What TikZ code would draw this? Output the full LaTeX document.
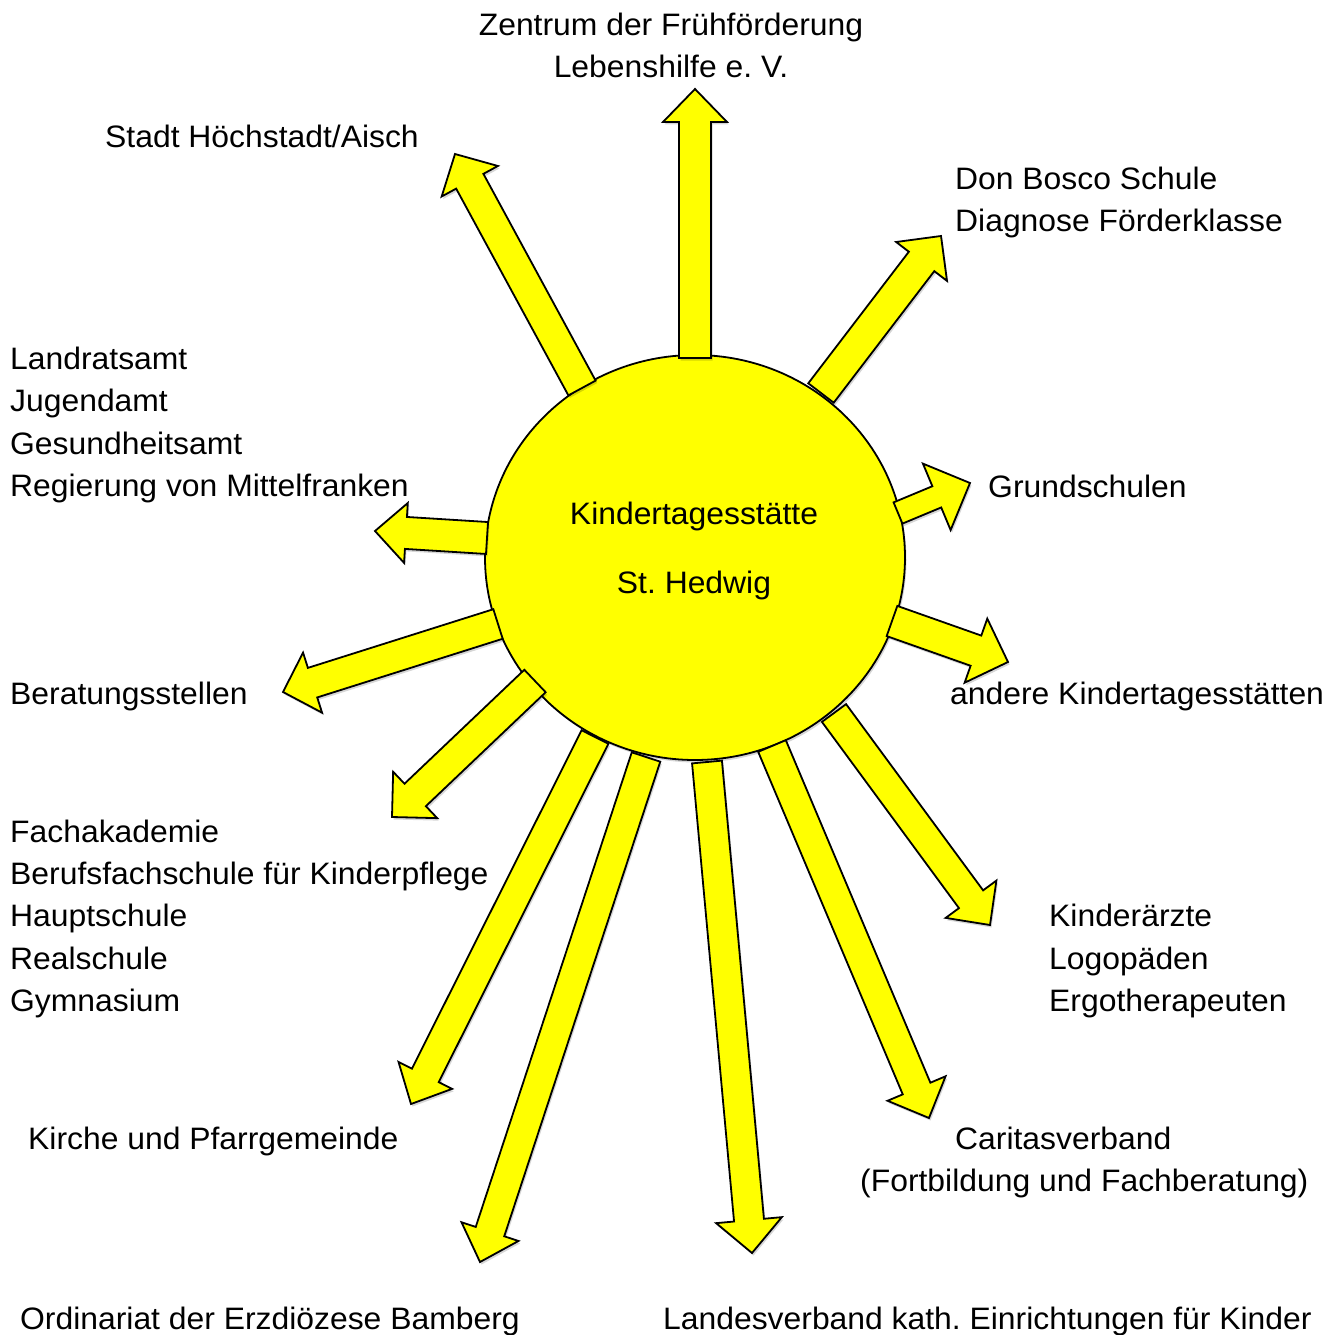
\documentclass[tikz,border=0pt]{standalone}
\usepackage{fontspec}
\setmainfont{Liberation Sans}[FakeStretch=1.028]
\usetikzlibrary{calc,shapes.geometric}
\frenchspacing
\tikzset{
  ray/.style={fill={rgb,255:red,255;green,255;blue,0}, draw=black, line width=1.8pt, line join=miter},
  rayshadow/.style={fill=black, opacity=0.16, transform canvas={shift={(1.5pt,-2.5pt)}}},
  sun/.style={ellipse, draw=black, line width=1.8pt, fill={rgb,255:red,255;green,255;blue,0}, minimum width=420pt, minimum height=405pt, inner sep=0pt},
  lbl/.style={font=\fontsize{31}{42}\selectfont\frenchspacing, inner sep=0pt, anchor=base west},
  clbl/.style={font=\fontsize{31}{42}\selectfont\frenchspacing, inner sep=0pt, anchor=base}
}
% #1 style, #2 base, #3 tip, #4 shaft half width, #5 head half width
\newcommand\rayshape[5]{%
  \path[#1] ($(#2)!#4!90:(#3)$) -- ($(hb)!#4!90:(#3)$) -- ($(hb)!#5!90:(#3)$) -- (#3)
    -- ($(hb)!#5!-90:(#3)$) -- ($(hb)!#4!-90:(#3)$) -- ($(#2)!#4!-90:(#3)$) -- cycle;}
% #1 base, #2 tip, #3 shaft half width, #4 head half width, #5 head length
\newcommand\sunray[5]{%
  \path coordinate (hb) at ($(#2)!#5!(#1)$);
  \rayshape{rayshadow}{#1}{#2}{#3}{#4}
  \rayshape{ray}{#1}{#2}{#3}{#4}}
\begin{document}
\begin{tikzpicture}[x=1pt, y=-1pt]
\useasboundingbox (0,0) rectangle (1341,1335);
% sun
\fill[black, opacity=0.16, transform canvas={shift={(1.5pt,-2.5pt)}}] (695,557.5) ellipse [x radius=210, y radius=202.5];
\node[sun] (kita) at (695,557.5) {};
% ray coordinates
\coordinate (b1) at (695,358);   \coordinate (t1) at (695,89);
\coordinate (b2) at (582,388);   \coordinate (t2) at (455,154);
\coordinate (b3) at (821,393);   \coordinate (t3) at (941,236);
\coordinate (b4) at (487,538);   \coordinate (t4) at (375,531);
\coordinate (b5) at (898,513);   \coordinate (t5) at (970,483);
\coordinate (b6) at (892,621);   \coordinate (t6) at (1008,662);
\coordinate (b7) at (498,624);   \coordinate (t7) at (283,692);
\coordinate (b8) at (535,681);   \coordinate (t8) at (392,817);
\coordinate (b9) at (595,737);   \coordinate (t9) at (411,1104);
\coordinate (b10) at (646,757);  \coordinate (t10) at (480,1262);
\coordinate (b11) at (707,762);  \coordinate (t11) at (752,1253);
\coordinate (b12) at (772,746);  \coordinate (t12) at (929,1118);
\coordinate (b13) at (834,713);  \coordinate (t13) at (990,925);
% rays
\sunray{b1}{t1}{16pt}{32pt}{33pt}
\sunray{b2}{t2}{15.5pt}{32pt}{31pt}
\sunray{b3}{t3}{16pt}{32pt}{32pt}
\sunray{b4}{t4}{16pt}{30pt}{31pt}
\sunray{b5}{t5}{11.5pt}{36pt}{36pt}
\sunray{b6}{t6}{16pt}{34pt}{34pt}
\sunray{b7}{t7}{15.5pt}{31.5pt}{31pt}
\sunray{b8}{t8}{15.5pt}{32pt}{32pt}
\sunray{b9}{t9}{15pt}{30pt}{32pt}
\sunray{b10}{t10}{15pt}{30pt}{32pt}
\sunray{b11}{t11}{15pt}{33pt}{33pt}
\sunray{b12}{t12}{15pt}{31.5pt}{32pt}
\sunray{b13}{t13}{15pt}{31.5pt}{32pt}
% centre text
\node[clbl] (kt1) at (694,524) {Kindertagesstätte};
\node[clbl] (kt2) at (694,593) {St. Hedwig};
% labels
\node[clbl] (z1) at (671,36) {Zentrum der Frühförderung};
\node[clbl] (z2) at (671,78) {Lebenshilfe e. V.};
\node[lbl] (s1) at (105,147) {Stadt Höchstadt/Aisch};
\node[lbl] (d1) at (955,189) {Don Bosco Schule};
\node[lbl] (d2) at (955,231) {Diagnose Förderklasse};
\node[lbl] (l1) at (10,369) {Landratsamt};
\node[lbl] (l2) at (10,411) {Jugendamt};
\node[lbl] (l3) at (10,454) {Gesundheitsamt};
\node[lbl] (l4) at (10,496) {Regierung von Mittelfranken};
\node[lbl] (g1) at (988,497) {Grundschulen};
\node[lbl] (be1) at (10,704) {Beratungsstellen};
\node[lbl] (a1) at (950,704) {andere Kindertagesstätten};
\node[lbl] (f1) at (10,842) {Fachakademie};
\node[lbl] (f2) at (10,884) {Berufsfachschule für Kinderpflege};
\node[lbl] (f3) at (10,926) {Hauptschule};
\node[lbl] (f4) at (10,969) {Realschule};
\node[lbl] (f5) at (10,1011) {Gymnasium};
\node[lbl] (k1) at (1049,926) {Kinderärzte};
\node[lbl] (k2) at (1049,969) {Logopäden};
\node[lbl] (k3) at (1049,1011) {Ergotherapeuten};
\node[lbl] (p1) at (28,1149) {Kirche und Pfarrgemeinde};
\node[lbl] (c1) at (955,1149) {Caritasverband};
\node[lbl] (c2) at (860,1191) {(Fortbildung und Fachberatung)};
\node[lbl] (o1) at (20,1329) {Ordinariat der Erzdiözese Bamberg};
\node[lbl] (lv1) at (663,1329) {Landesverband kath. Einrichtungen für Kinder};
\end{tikzpicture}
\end{document}
